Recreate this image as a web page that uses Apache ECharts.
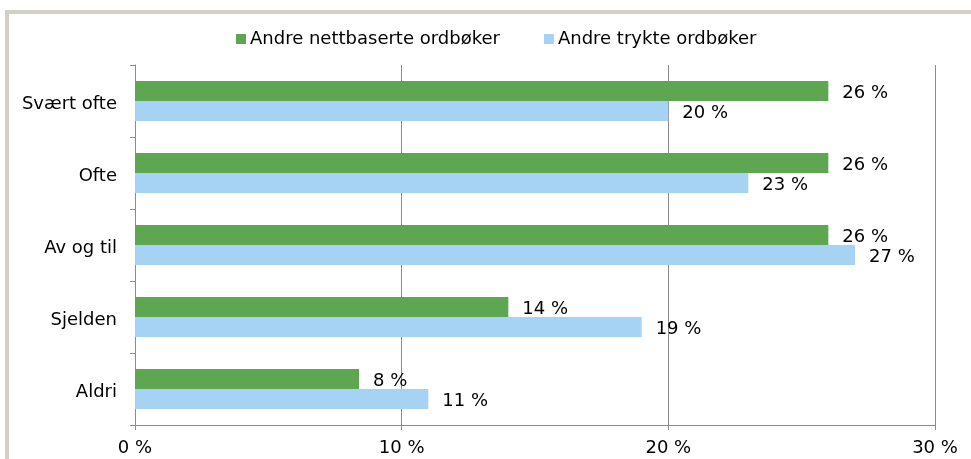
<!DOCTYPE html>
<html>
<head>
<meta charset="utf-8">
<script src="https://cdn.jsdelivr.net/npm/echarts@6/dist/echarts.min.js"></script>
<style>
html, body { margin:0; padding:0; background:#ffffff; }
#chart { width:971px; height:459px; }
</style>
</head>
<body>
<div id="chart"></div>
<script>
// kategorier, fra topp til bunn
var categories = ['Svært ofte', 'Ofte', 'Av og til', 'Sjelden', 'Aldri'];
var seriesNames = ['Andre nettbaserte ordbøker', 'Andre trykte ordbøker'];
var nettbaserte = [26, 26, 26, 14, 8.4];
var trykte = [20, 23, 27, 19, 11];

var fontName = 'DejaVu Sans';

var chart = echarts.init(document.getElementById('chart'));

var labelStyle = {
	show: true,
	position: 'right',
	distance: 14,
	offset: [0, 2],
	color: '#000',
	fontFamily: fontName,
	fontSize: 18,
	formatter: function (p) {
		return Math.round(p.value) + ' %';
	}
};

var option = {
	backgroundColor: '#ffffff',
	animation: false,
	// grå ramme rundt diagrammet
	graphic: [{
		type: 'rect',
		shape: {x: 7, y: 12, width: 1000, height: 500},
		style: {fill: 'none', stroke: '#d4d0c8', lineWidth: 4},
		silent: true
	}],
	legend: {
		left: 231,
		top: 25,
		itemWidth: 10,
		itemHeight: 10,
		itemGap: 44,
		icon: 'rect',
		textStyle: {fontFamily: fontName, fontSize: 18, color: '#000', padding: [0, 0, 0, -1]},
		data: seriesNames
	},
	grid: {
		left: 135,
		right: 36,
		top: 65,
		bottom: 34,
		containLabel: false
	},
	xAxis: {
		type: 'value',
		min: 0,
		max: 30,
		interval: 10,
		axisLine: {show: true, lineStyle: {color: '#8c8c8c'}},
		axisTick: {show: true, length: 5, lineStyle: {color: '#8c8c8c'}},
		splitLine: {show: true, lineStyle: {color: '#8c8c8c'}},
		axisLabel: {
			formatter: '{value} %',
			color: '#000',
			fontFamily: fontName,
			fontSize: 18,
			margin: 14
		}
	},
	yAxis: {
		type: 'category',
		inverse: true,
		data: categories,
		axisLine: {show: true, lineStyle: {color: '#8c8c8c'}},
		axisTick: {show: true, length: 5, interval: 0, lineStyle: {color: '#8c8c8c'}},
		axisLabel: {
			margin: 18,
			formatter: function (v) {
				return '{k|' + v + '}';
			},
			rich: {
				k: {
					color: '#000',
					fontFamily: fontName,
					fontSize: 18,
					padding: [6, 0, 0, 0]
				}
			}
		}
	},
	series: [
		{
			name: seriesNames[0],
			type: 'bar',
			data: nettbaserte,
			barWidth: 20,
			barGap: '0%',
			itemStyle: {color: '#5ea651'},
			label: labelStyle
		},
		{
			name: seriesNames[1],
			type: 'bar',
			data: trykte,
			barWidth: 20,
			barGap: '0%',
			itemStyle: {color: '#a6d3f3'},
			label: labelStyle
		}
	]
};

chart.setOption(option);
</script>
</body>
</html>
